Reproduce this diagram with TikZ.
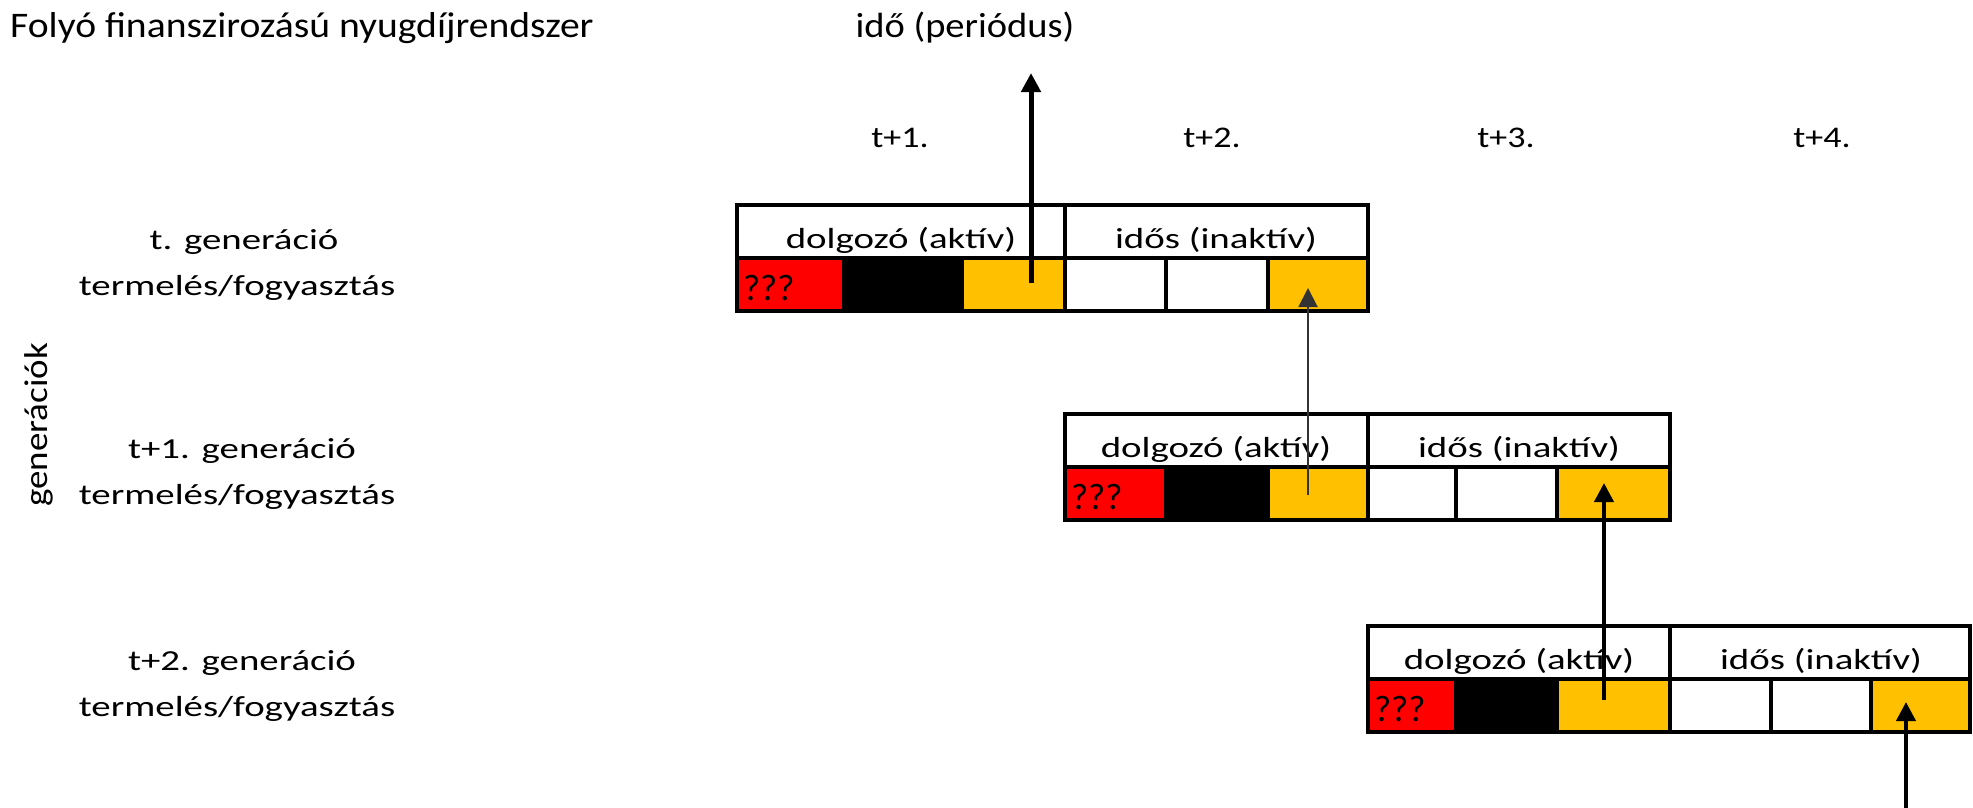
\documentclass[tikz,border=0pt]{standalone}
\usepackage{fontspec}
\setmainfont{Carlito}
\newfontfamily\fbody{Carlito}[FakeStretch=1.34]
\newfontfamily\ftitle{Carlito}[FakeStretch=1.1]
\newfontfamily\ftime{Carlito}[FakeStretch=1.2]
\newfontfamily\fside{Carlito}[FakeStretch=1.12]
\usetikzlibrary{arrows.meta}
\definecolor{cyellow}{HTML}{FFC000}
\definecolor{cred}{HTML}{FF0000}
\begin{document}
\begin{tikzpicture}[x=1pt,y=-1pt,
  cell/.style={draw=black, line width=3.5pt, inner sep=0pt, outer sep=0pt, anchor=north west, minimum height=53pt},
  hdr/.style={cell, fill=white},
  txt/.style={inner sep=0pt, outer sep=0pt, anchor=base, font=\fbody\fontsize{29}{34}\selectfont},
  qq/.style={inner sep=0pt, outer sep=0pt, anchor=base west, font=\fontsize{37}{40}\selectfont},
  arr/.style={-{Triangle[length=19pt,width=19pt]}, line width=4pt},
]
\useasboundingbox (0,0) rectangle (1973,808);
\fill[white] (0,0) rectangle (1973,808);

% titles
\node[inner sep=0pt, anchor=base west, font=\ftitle\fontsize{36}{40}\selectfont] (title) at (10,38) {Folyó finanszirozású nyugdíjrendszer};
\node[inner sep=0pt, anchor=base, font=\ftitle\fontsize{35}{40}\selectfont] (ido) at (965,38) {idő (periódus)};

% periods
\node[inner sep=0pt, anchor=base, font=\ftime\fontsize{30}{34}\selectfont] (p1) at (900,147) {t+1.};
\node[inner sep=0pt, anchor=base, font=\ftime\fontsize{30}{34}\selectfont] (p2) at (1212,147) {t+2.};
\node[inner sep=0pt, anchor=base, font=\ftime\fontsize{30}{34}\selectfont] (p3) at (1506,147) {t+3.};
\node[inner sep=0pt, anchor=base, font=\ftime\fontsize{30}{34}\selectfont] (p4) at (1822,147) {t+4.};

% side label
\node[inner sep=0pt, anchor=base, rotate=90, font=\fside\fontsize{33}{36}\selectfont] (gens) at (47,425) {generációk};

% generation labels
\node[txt] (g1a) at (244,249) {t. generáció};
\node[txt] (g1b) at (237,295) {termelés/fogyasztás};
\node[txt] (g2a) at (242,458) {t+1. generáció};
\node[txt] (g2b) at (237,504) {termelés/fogyasztás};
\node[txt] (g3a) at (242,670) {t+2. generáció};
\node[txt] (g3b) at (237,716) {termelés/fogyasztás};

% ---------- block 1 ----------
\node[hdr, minimum width=328pt] (b1h1) at (737,205) {};
\node[hdr, minimum width=303pt] (b1h2) at (1065,205) {};
\node[cell, fill=cred, minimum width=107pt] (b1c1) at (737,258) {};
\node[cell, fill=black, minimum width=118pt] (b1c2) at (844,258) {};
\node[cell, fill=cyellow, minimum width=103pt] (b1c3) at (962,258) {};
\node[cell, fill=white, minimum width=101pt] (b1c4) at (1065,258) {};
\node[cell, fill=white, minimum width=102pt] (b1c5) at (1166,258) {};
\node[cell, fill=cyellow, minimum width=100pt] (b1c6) at (1268,258) {};
\node[txt] (b1t1) at (901,248) {dolgozó (aktív)};
\node[txt] (b1t2) at (1216,248) {idős (inaktív)};
\node[qq] (b1q) at (743,300) {???};

% ---------- block 2 ----------
\node[hdr, minimum width=303pt] (b2h1) at (1065,414) {};
\node[hdr, minimum width=302pt] (b2h2) at (1368,414) {};
\node[cell, fill=cred, minimum width=101pt] (b2c1) at (1065,467) {};
\node[cell, fill=black, minimum width=102pt] (b2c2) at (1166,467) {};
\node[cell, fill=cyellow, minimum width=100pt] (b2c3) at (1268,467) {};
\node[cell, fill=white, minimum width=88pt] (b2c4) at (1368,467) {};
\node[cell, fill=white, minimum width=101pt] (b2c5) at (1456,467) {};
\node[cell, fill=cyellow, minimum width=113pt] (b2c6) at (1557,467) {};
\node[txt] (b2t1) at (1216,457) {dolgozó (aktív)};
\node[txt] (b2t2) at (1519,457) {idős (inaktív)};
\node[qq] (b2q) at (1071,509) {???};

% ---------- block 3 ----------
\node[hdr, minimum width=302pt] (b3h1) at (1368,626) {};
\node[hdr, minimum width=300pt] (b3h2) at (1670,626) {};
\node[cell, fill=cred, minimum width=88pt] (b3c1) at (1368,679) {};
\node[cell, fill=black, minimum width=101pt] (b3c2) at (1456,679) {};
\node[cell, fill=cyellow, minimum width=113pt] (b3c3) at (1557,679) {};
\node[cell, fill=white, minimum width=101pt] (b3c4) at (1670,679) {};
\node[cell, fill=white, minimum width=100pt] (b3c5) at (1771,679) {};
\node[cell, fill=cyellow, minimum width=99pt] (b3c6) at (1871,679) {};
\node[txt] (b3t1) at (1519,669) {dolgozó (aktív)};
\node[txt] (b3t2) at (1821,669) {idős (inaktív)};
\node[qq] (b3q) at (1374,721) {???};

% ---------- arrows ----------
\coordinate (a1s) at (1031,283);
\coordinate (a1e) at (1031,73);
\coordinate (a2s) at (1308,495);
\coordinate (a2e) at (1308,288);
\coordinate (a3s) at (1604,700);
\coordinate (a3e) at (1604,483);
\coordinate (a4s) at (1906,808);
\coordinate (a4e) at (1906,702);
\draw[arr, line width=5pt] (a1s) -- (a1e);
\draw[arr, line width=2pt, draw=black!80, fill=black] (a2s) -- (a2e);
\draw[arr] (a3s) -- (a3e);
\draw[arr] (a4s) -- (a4e);
\end{tikzpicture}
\end{document}
